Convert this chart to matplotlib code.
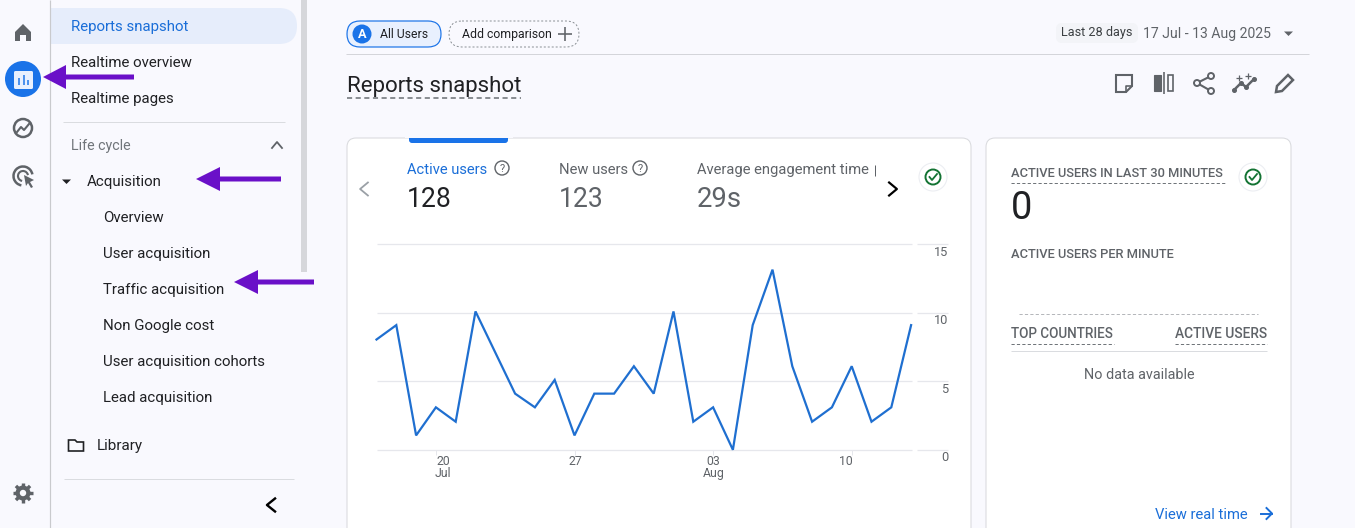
import numpy as np
import matplotlib
matplotlib.use("Agg")
import matplotlib.pyplot as plt
from matplotlib.patches import Rectangle, Circle, FancyBboxPatch, Polygon, Arc
from matplotlib.transforms import ScaledTranslation

plt.rcParams['font.family'] = ['Roboto', 'DejaVu Sans']

# ---- data ----
active_users = [8.05, 9.1, 1.05, 3.1, 2.05, 10.1, 7.1, 4.1, 3.1, 5.1, 1.05, 4.1, 4.1, 6.1,
                4.1, 10.1, 2.05, 3.1, 0, 9.1, 13.15, 6.1, 2.05, 3.1, 6.1, 2.05, 3.1, 9.1]
day_index = list(range(len(active_users)))
x_tick_days = [3, 10, 17, 24]
x_tick_labels = ['20\nJul', '27', '03\nAug', '10']
x_label_shift = [7, 0.5, 0.5, -6]
y_ticks = [0, 5, 10, 15]
sidebar_items = ['Reports snapshot', 'Realtime overview', 'Realtime pages']
acq_items = ['Overview', 'User acquisition', 'Traffic acquisition', 'Non Google cost',
             'User acquisition cohorts', 'Lead acquisition']

W, H = 1355, 528
BG = '#f9f9fe'
BLUE = '#1a6ed8'
DARK = '#202124'
TXT = '#3c4043'
GREY = '#5f6368'
LINE = '#dadce0'
PURPLE = '#6a10c8'

fig = plt.figure(figsize=(W / 100, H / 100), dpi=100, facecolor=BG)
ui = fig.add_axes([0, 0, 1, 1], zorder=0)
ui.set_xlim(0, W)
ui.set_ylim(H, 0)
ui.axis('off')


def T(x, y, s, px=15.0, c=TXT, ha='left', **kw):
    return ui.text(x, y, s, fontsize=px * 0.72, color=c, ha=ha, va='baseline', **kw)


def L(x0, y0, x1, y1, c=LINE, w=1.0, **kw):
    ui.plot([x0, x1], [y0, y1], color=c, lw=w * 0.72, solid_capstyle=kw.pop('cap', 'butt'), **kw)


def dash(x0, x1, y, c='#70757a', w=1.0):
    ui.plot([x0, x1], [y, y], color=c, lw=w * 0.72, dashes=(3.2, 2.2), zorder=3)


def rbox(x0, y0, x1, y1, r, fc='white', ec='none', lw=1.0, ls='-', z=1):
    p = FancyBboxPatch((x0 + r, y0 + r), x1 - x0 - 2 * r, y1 - y0 - 2 * r,
                       boxstyle=f'round,pad={r},rounding_size={r}', fc=fc, ec=ec,
                       lw=lw * 0.72, ls=ls, zorder=z)
    ui.add_patch(p)
    return p


def arrow(tip, base, end, y, half=12, thick=5):
    ui.add_patch(Polygon([(tip, y), (base, y - half), (base, y - thick / 2), (end, y - thick / 2),
                          (end, y + thick / 2), (base, y + thick / 2), (base, y + half)],
                         fc=PURPLE, ec='none', zorder=8))


def chevron(x, y, d, s=5, c=DARK, w=2.0, k=0.6):
    pts = {'l': [(x + s * k, y - s), (x - s * k, y), (x + s * k, y + s)],
           'r': [(x - s * k, y - s), (x + s * k, y), (x - s * k, y + s)],
           'u': [(x - s, y + s * k), (x, y - s * k), (x + s, y + s * k)]}[d]
    ui.plot(*zip(*pts), color=c, lw=w * 0.72, zorder=3)


def check(x, y):
    ui.add_patch(Circle((x, y), 14, fc='white', ec='#eceef2', lw=0.8, zorder=3))
    ui.add_patch(Circle((x, y), 7.5, fc='none', ec='#137333', lw=1.4, zorder=4))
    ui.plot([x - 3.5, x - 1, x + 4], [y, y + 3, y - 3], color='#137333', lw=1.3, zorder=4)


def helpq(x, y):
    ui.add_patch(Circle((x, y), 7, fc='none', ec=GREY, lw=1.0, zorder=4))
    ui.text(x, y + 3.5, '?', fontsize=8, color=GREY, ha='center', va='baseline', zorder=5)


# ---- left rail & sidebar ----
ui.add_patch(Rectangle((301, 0), 6, 272, fc='#d6d7db', ec='none', zorder=1))
rbox(30, 8, 297, 44, 18, fc='#e6edfb', z=1)
ui.add_patch(Rectangle((0, 0), 50, H, fc=BG, ec='none', zorder=1.5))
L(50, 0, 50, H, '#c9cacd', 1.2, zorder=2)

# home
ui.add_patch(Polygon([(15, 32), (23, 24), (31, 32), (31, 41), (26, 41), (26, 35), (20, 35), (20, 41), (15, 41)],
                     fc=GREY, ec='none', zorder=3))
# reports
ui.add_patch(Circle((23, 79), 18, fc='#1a73e8', ec='none', zorder=3))
rbox(14, 71, 33, 89, 1.5, fc='#e8f0fe', z=4)
for xb, top in [(19, 78), (23.5, 75), (28, 80)]:
    L(xb, top, xb, 85, '#1a73e8', 1.5, zorder=5)
# explore
ui.add_patch(Circle((23, 128), 9, fc='none', ec=GREY, lw=1.8, zorder=3))
ui.plot([17, 21, 24, 29], [132, 127, 130, 124], color=GREY, lw=1.5, zorder=3)
# advertising
ui.add_patch(Arc((23, 176), 19, 19, theta1=100, theta2=350, ec=GREY, lw=1.8, zorder=3))
ui.add_patch(Arc((23, 176), 10, 10, theta1=100, theta2=350, ec=GREY, lw=1.5, zorder=3))
ui.add_patch(Polygon([(24, 175), (34, 180), (30, 182), (33, 187), (31, 188), (28, 183), (26, 186)],
                     fc=GREY, ec='none', zorder=4))
# gear
ui.add_patch(Circle((23, 493), 7.5, fc=GREY, ec='none', zorder=3))
for a in np.arange(0, 360, 45):
    ca, sa = np.cos(np.radians(a)), np.sin(np.radians(a))
    L(23 + 6 * ca, 493 + 6 * sa, 23 + 10 * ca, 493 + 10 * sa, GREY, 3.4, zorder=3)
ui.add_patch(Circle((23, 493), 3.2, fc=BG, ec='none', zorder=4))

for y, s, c in zip([31, 67, 103], sidebar_items, [BLUE, DARK, DARK]):
    T(71, y, s, 15.0, c, zorder=5)
L(63, 121.5, 285, 121.5)
T(71, 150, 'Life cycle', 14.3, '#70757a')
chevron(277, 145, 'u', 5, GREY, 1.8)
ui.add_patch(Polygon([(62, 179.5), (71, 179.5), (66.5, 184)], fc=DARK, ec='none'))
T(87, 186, 'Acquisition', 15.0, DARK)
for y, s in zip([222, 258, 294, 330, 366, 402], acq_items):
    T(103, y, s, 15.0, DARK)
# library
ui.add_patch(Polygon([(68.5, 440), (75, 440), (77, 442), (83.5, 442), (83.5, 451), (68.5, 451)],
                     fc='none', ec=DARK, lw=1.2))
T(97, 450, 'Library', 15.2, DARK)
L(64, 478.5, 294, 478.5)
chevron(271, 505, 'l', 6.5, 'black', 2.4, 0.62)

arrow(43, 66, 134, 77)
arrow(196, 220, 281, 179)
arrow(234, 258, 314, 282)

# ---- header ----
rbox(347, 21, 441, 47, 13, fc='#e8f0fe', ec='#1a73e8', lw=1.2)
ui.add_patch(Circle((362, 34), 9.5, fc='#1a73e8', ec='none', zorder=3))
ui.text(362, 38.5, 'A', fontsize=9.2, color='white', ha='center', va='baseline', weight='bold', zorder=4)
T(380, 38, 'All Users', 12.2, DARK, zorder=4)
rbox(449, 21, 579, 47, 13, fc=BG, ec='#80868b', lw=0.9, ls=(0, (2.2, 2.2)))
T(462, 38, 'Add comparison', 12.2, DARK, zorder=4)
L(558, 33.5, 572, 33.5, GREY, 1.6, zorder=4)
L(565, 26.5, 565, 40.5, GREY, 1.6, zorder=4)

rbox(1056, 23, 1138, 43, 6, fc='#f3f4f8', z=0.5)
T(1061, 36, 'Last 28 days', 12.6, TXT, zorder=3)
T(1143, 38, '17 Jul - 13 Aug 2025', 14.0, GREY)
ui.add_patch(Polygon([(1284, 31.5), (1293, 31.5), (1288.5, 36)], fc=GREY, ec='none'))
L(346, 53.5, 1309, 53.5, '#d4d5da')

T(347, 92, 'Reports snapshot', 22.3, DARK)
dash(347, 521, 98, '#70757a', 1.6)

# toolbar icons
ui.add_patch(Polygon([(1116, 75), (1132, 75), (1132, 86), (1126, 92), (1116, 92)], fc='none', ec=GREY, lw=1.5))
ui.plot([1126, 1126, 1132], [92, 86, 86], color=GREY, lw=1.2)
ui.add_patch(Rectangle((1154, 75), 7, 16, fc=GREY, ec=GREY, lw=0.8))
L(1164, 72, 1164, 94, GREY, 1.6)
ui.add_patch(Rectangle((1167.5, 75), 5.5, 16, fc='none', ec=GREY, lw=1.2))
ui.plot([1211, 1197, 1211], [76, 83, 91], color=GREY, lw=1.5)
for cx, cy in [(1211, 76), (1197, 83), (1211, 91)]:
    ui.add_patch(Circle((cx, cy), 3, fc=BG, ec=GREY, lw=1.4, zorder=3))
ui.plot([1234, 1241, 1246, 1254], [90, 83, 87, 79], color=GREY, lw=1.8, marker='o', ms=2.6)
ui.plot([1239, 1248], [78, 76], color=GREY, ls='none', marker='+', ms=4, mew=0.9)
ui.add_patch(Polygon([(1276, 92), (1277, 86), (1288, 75), (1293, 80), (1282, 91)], fc='none', ec=GREY, lw=1.8))

# ---- cards ----
rbox(347, 138, 971, 600, 9, fc='white', ec='#d8d9dd', lw=1.0)
rbox(986, 138, 1291, 600, 9, fc='white', ec='#d8d9dd', lw=1.0)
ui.add_patch(FancyBboxPatch((412, 136), 93, 4, boxstyle='round,pad=3,rounding_size=3',
                            fc='#1a73e8', ec='none', zorder=3))
ui.add_patch(Rectangle((405, 130), 108, 8, fc=BG, ec='none', zorder=4))

T(407, 174, 'Active users', 14.8, BLUE, zorder=3)
helpq(502, 168)
T(407, 207, '128', 26.5, DARK, zorder=3)
T(559, 174, 'New users', 14.8, GREY, zorder=3)
helpq(640, 168)
T(559, 207, '123', 26.5, GREY, zorder=3)
T(697, 174, 'Average engagement time', 14.8, GREY, zorder=3)
L(874.5, 165, 874.5, 176, GREY, 1.0, zorder=3)
T(697, 207, '29s', 27.5, GREY, zorder=3)
chevron(364, 189, 'l', 6.5, '#9aa0a6', 1.8)
chevron(893, 189, 'r', 6.5, 'black', 2.2)
check(933, 177)

# right card
T(1011, 177, 'ACTIVE USERS IN LAST 30 MINUTES', 12.9, GREY, zorder=3, weight='medium')
dash(1011, 1225, 183, '#70757a')
check(1253, 177)
T(1011, 219, '0', 38, DARK, zorder=3)
T(1011, 258, 'ACTIVE USERS PER MINUTE', 12.9, GREY, zorder=3, weight='medium')
dash(1019, 1258, 314, '#b5b7bb')
T(1011, 338, 'TOP COUNTRIES', 13.5, GREY, zorder=3, weight='medium')
T(1267, 338, 'ACTIVE USERS', 13.7, GREY, ha='right', zorder=3, weight='medium')
dash(1011, 1114, 344, '#70757a')
dash(1175, 1267, 344, '#70757a')
L(1011, 350.5, 1267, 350.5, '#dadce0', zorder=3)
T(1139, 379, 'No data available', 14.4, GREY, ha='center', zorder=3)
T(1155, 519, 'View real time', 14.8, BLUE, zorder=3)
ui.plot([1261, 1271.5], [513.5, 513.5], color=BLUE, lw=1.4, zorder=3)
ui.plot([1266.5, 1272, 1266.5], [508, 513.5, 519], color=BLUE, lw=1.4, zorder=3)

# ---- chart ----
PX0, STEP = 376.5, 19.8
AX_L, AX_R, AX_T, AX_B = 376.5, 948, 244.3, 449.8
ax = fig.add_axes([AX_L / W, 1 - AX_B / H, (AX_R - AX_L) / W, (AX_B - AX_T) / H], zorder=2)
ax.patch.set_alpha(0)
ax.set_xlim(0, (AX_R - AX_L) / STEP)
ax.set_ylim(0, 15)
for s in ax.spines.values():
    s.set_visible(False)
grid_end = (912 - PX0) / STEP
tick_start = (916.5 - PX0) / STEP
ax.hlines(y_ticks, 0, grid_end, color='#e6e7ec', lw=0.9, zorder=1, clip_on=False)
ax.hlines(y_ticks, tick_start, ax.get_xlim()[1], color='#e6e7ec', lw=0.9, zorder=1, clip_on=False)
ax.plot(day_index, active_users, color='#1f6fd0', lw=1.6, solid_joinstyle='miter', zorder=3, clip_on=False)

ax.set_xticks(x_tick_days)
ax.set_xticklabels(x_tick_labels, fontsize=8.8, color=GREY, linespacing=0.95)
ax.tick_params(axis='x', length=3.6, width=0.7, color='#e6e7ec', pad=0)
ax.yaxis.tick_right()
ax.set_yticks(y_ticks)
ax.set_yticklabels([str(v) for v in y_ticks], fontsize=9.2, color=GREY, ha='right')
ax.tick_params(axis='y', length=0, pad=0)
for lab, shift in zip(ax.get_xticklabels(), x_label_shift):
    lab.set_transform(lab.get_transform() + ScaledTranslation(shift / 100, 0, fig.dpi_scale_trans))
dy = ScaledTranslation(0, -6.5 / 100, fig.dpi_scale_trans)
for lab in ax.get_yticklabels():
    lab.set_transform(lab.get_transform() + dy)

fig.savefig('out.png', dpi=100, facecolor=BG)
